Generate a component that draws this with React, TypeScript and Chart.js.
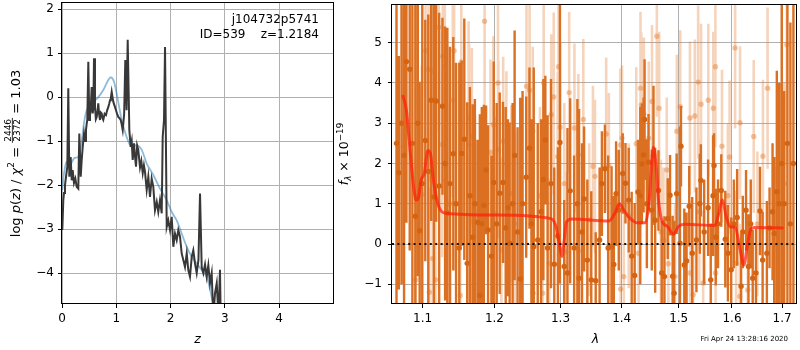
import React, { useEffect, useRef } from 'react';
import { Chart, registerables } from 'chart.js';
Chart.register(...registerables);

const FONT = '"DejaVu Sans", sans-serif';

// ---------- left panel: log p(z) ----------
const zBlack = [0.006,0.024,0.037,0.055,0.074,0.098,0.116,0.135,0.160,0.179,0.197,0.221,0.246,0.271,0.300,0.319,0.345,0.363,0.382,0.406,0.424,0.442,0.456,0.466,0.485,0.503,0.516,0.529,0.547,0.566,0.578,0.590,0.608,0.624,0.640,0.655,0.669,0.685,0.700,0.716,0.732,0.746,0.761,0.786,0.811,0.832,0.853,0.870,0.885,0.900,0.916,0.931,0.946,0.970,0.995,1.016,1.038,1.060,1.082,1.100,1.119,1.145,1.167,1.190,1.211,1.241,1.254,1.266,1.285,1.303,1.327,1.345,1.364,1.385,1.406,1.438,1.462,1.488,1.510,1.530,1.561,1.591,1.622,1.653,1.683,1.714,1.746,1.775,1.806,1.838,1.856,1.880,1.899,1.930,1.959,1.991,2.022,2.052,2.083,2.114,2.144,2.175,2.206,2.236,2.267,2.299,2.328,2.359,2.391,2.420,2.452,2.483,2.515,2.544,2.575,2.605,2.636,2.667,2.697,2.728,2.759,2.789,2.820,2.852,2.885,2.912,2.931];
const pBlack = [-3.02,-2.34,-2.18,-2.00,-1.81,-1.58,0.20,-1.81,-1.36,-1.89,-1.66,-1.95,-1.85,-2.04,-2.08,-0.83,-1.81,-1.43,-1.13,-0.83,-1.00,-0.75,-0.60,-0.52,0.80,-0.52,-0.42,-0.30,0.23,-0.37,-0.25,0.88,-0.22,-0.50,-0.45,-0.30,-0.14,-0.40,-0.52,-0.35,-0.37,-0.48,-0.52,-0.38,-0.41,-0.30,-0.23,-0.15,-0.07,-0.02,0.12,0.00,-0.11,-0.20,-0.30,-0.38,-0.45,-0.48,-0.52,-0.62,-0.75,-0.40,0.84,-0.30,1.30,-0.75,-0.95,-1.13,-1.00,-1.43,-1.05,-1.35,-1.58,-1.10,-1.20,-1.60,-1.45,-1.73,-1.55,-1.70,-2.11,-1.81,-2.27,-1.85,-2.04,-2.57,-2.38,-2.61,-2.34,-2.64,-0.90,-0.52,1.14,-2.95,-2.80,-3.02,-2.72,-3.40,-3.10,-3.25,-3.02,-3.17,-3.55,-3.70,-3.86,-3.55,-3.93,-4.08,-3.63,-3.48,-3.78,-4.00,-3.70,-2.19,-3.86,-4.00,-3.80,-4.08,-3.82,-4.23,-4.00,-5.00,-4.46,-4.23,-5.00,-3.92,-5.50];
const zBlue = [0.006,0.037,0.086,0.147,0.221,0.300,0.363,0.424,0.485,0.577,0.669,0.761,0.853,0.903,0.959,1.020,1.100,1.190,1.280,1.376,1.469,1.561,1.683,1.806,1.930,2.022,2.114,2.206,2.299,2.391,2.483,2.575,2.667,2.759,2.800];
const pBlue = [-2.11,-1.73,-1.47,-1.55,-1.39,-1.36,-0.98,-0.45,-0.22,-0.11,0.00,0.16,0.39,0.45,0.35,0.00,-0.52,-0.90,-1.13,-1.09,-1.20,-1.51,-1.77,-2.08,-2.34,-2.61,-2.80,-3.10,-3.40,-3.63,-3.78,-3.93,-4.08,-4.54,-4.77];
const zTicks = [0, 1, 2, 3, 4];
const logpTicks = [-4, -3, -2, -1, 0, 1, 2];

// ---------- right panel: spectrum ----------
const darkWave = [1.0658,1.0688,1.0723,1.0756,1.0787,1.0830,1.0865,1.0904,1.0937,1.0961,1.0996,1.1036,1.1076,1.1115,1.1152,1.1182,1.1223,1.1268,1.1304,1.1335,1.1372,1.1417,1.1455,1.1500,1.1533,1.1570,1.1611,1.1649,1.1687,1.1719,1.1757,1.1790,1.1818,1.1847,1.1879,1.1908,1.1956,1.1990,1.2033,1.2077,1.2125,1.2165,1.2198,1.2223,1.2267,1.2297,1.2341,1.2381,1.2416,1.2471,1.2520,1.2550,1.2585,1.2646,1.2698,1.2733,1.2763,1.2798,1.2851,1.2902,1.2959,1.2991,1.3058,1.3110,1.3153,1.3216,1.3268,1.3295,1.3343,1.3376,1.3429,1.3493,1.3566,1.3630,1.3668,1.3718,1.3772,1.3829,1.3867,1.3905,1.3950,1.4017,1.4064,1.4119,1.4170,1.4221,1.4278,1.4318,1.4346,1.4376,1.4393,1.4433,1.4462,1.4519,1.4549,1.4579,1.4637,1.4695,1.4744,1.4802,1.4844,1.4891,1.4917,1.4963,1.5024,1.5042,1.5102,1.5144,1.5193,1.5248,1.5326,1.5389,1.5408,1.5470,1.5544,1.5594,1.5638,1.5657,1.5689,1.5732,1.5794,1.5871,1.5922,1.5985,1.6037,1.6101,1.6178,1.6211,1.6275,1.6323,1.6368,1.6407,1.6472,1.6552,1.6605,1.6691,1.6745,1.6806,1.6840,1.6893,1.6942,1.6994,1.7044,1.7111,1.7173,1.7236];
const darkFlux = [2.50,1.77,3.00,2.20,4.53,4.34,2.50,0.69,3.00,0.33,1.50,2.57,1.80,3.57,1.17,3.55,1.44,3.42,2.00,0.77,1.50,2.24,1.00,-0.10,2.25,2.60,-0.48,1.20,0.17,1.00,0.54,-1.28,0.50,0.96,1.84,0.35,-0.30,1.53,0.50,1.26,1.53,0.40,0.90,0.02,1.00,2.20,0.30,-0.87,1.00,1.66,2.38,0.50,-0.07,0.10,0.80,1.60,2.58,-0.10,1.50,-0.50,0.20,2.52,-0.56,-0.72,1.32,-0.10,1.00,-0.85,0.30,1.12,-0.40,-0.89,-0.91,0.10,1.50,1.87,-0.10,-0.07,-0.51,1.25,0.84,1.75,1.51,1.09,-0.30,-0.78,1.29,1.20,1.99,2.21,3.09,1.00,2.03,0.84,2.20,0.59,1.33,-0.72,-0.81,0.63,1.21,-0.80,-1.22,1.25,0.02,2.43,-0.52,-0.42,0.94,-0.23,0.10,1.00,1.58,0.30,0.90,-0.89,1.20,1.95,0.17,0.50,1.33,0.12,-0.23,-0.64,0.50,0.66,-1.05,0.30,0.84,-0.56,0.50,-0.85,-0.72,0.82,-0.40,-0.23,0.40,0.80,0.26,1.30,1.00,2.00,1.00,2.50,0.50,2.00];
const darkErr = [4.5,2.9,4.0,4.5,4.0,4.5,4.5,5.5,3.8,3.7,4.5,3.0,3.9,3.0,4.8,3.0,4.3,2.2,3.4,4.6,3.4,2.9,3.5,4.6,2.3,3.0,4.0,2.7,3.3,2.6,2.05,4.5,2.9,2.5,1.6,2.6,2.5,3.0,3.0,2.5,2.0,3.0,2.2,3.0,2.5,3.1,2.6,4.5,2.8,2.0,2.0,2.6,4.45,2.9,2.3,2.5,1.6,3.3,2.6,2.4,2.2,3.5,1.65,3.6,2.3,2.3,2.6,4.2,2.2,1.8,2.0,2.2,1.2,1.8,1.3,1.1,2.3,2.0,1.7,1.3,1.5,1.0,1.0,1.3,1.6,1.8,1.3,2.2,1.5,1.43,1.5,1.6,1.2,1.5,1.73,1.8,1.0,1.3,1.5,1.0,1.0,1.5,1.8,1.0,2.9,1.0,1.4,1.2,1.0,1.4,1.3,1.24,0.9,1.3,1.2,1.4,1.5,0.8,1.2,1.1,0.9,1.2,1.2,1.3,1.1,1.2,1.3,0.9,1.0,1.3,1.1,1.2,1.1,1.1,1.2,1.3,1.0,1.7,1.9,3.0,3.0,5.0,2.8,6.0,5.0,6.0];

const lightWave = [1.0745,1.0908,1.0990,1.1040,1.1080,1.1090,1.1125,1.1135,1.1174,1.1218,1.1263,1.1272,1.1300,1.1308,1.1370,1.1410,1.1428,1.1514,1.1528,1.1630,1.1639,1.1677,1.1720,1.1808,1.1858,1.1943,1.1985,1.2019,1.2052,1.2058,1.2101,1.2128,1.2175,1.2248,1.2300,1.2390,1.2475,1.2522,1.2570,1.2575,1.2680,1.2722,1.2738,1.2825,1.2855,1.2893,1.2955,1.2969,1.2995,1.3060,1.3085,1.3137,1.3221,1.3284,1.3288,1.3364,1.3460,1.3521,1.3554,1.3739,1.3784,1.3790,1.3853,1.3978,1.3982,1.4005,1.4035,1.4120,1.4249,1.4289,1.4322,1.4336,1.4380,1.4466,1.4523,1.4608,1.4649,1.4680,1.4726,1.4785,1.4814,1.4933,1.4967,1.5028,1.5206,1.5210,1.5266,1.5297,1.5358,1.5380,1.5412,1.5451,1.5548,1.5642,1.5682,1.5686,1.5808,1.5920,1.5954,1.6061,1.6080,1.6151,1.6157,1.6309,1.6427,1.6500,1.6611,1.6705,1.6873,1.6910,1.7048,1.7099];
const lightFlux = [2.42,-0.89,1.23,4.80,4.34,-1.20,4.30,-0.36,-0.89,5.38,2.47,4.66,4.40,1.58,1.00,3.57,4.80,-1.28,4.52,3.13,2.46,2.67,0.80,0.36,5.53,2.28,2.96,0.76,4.00,2.34,-0.15,2.55,1.99,1.25,0.50,-0.87,3.92,3.82,2.80,-1.22,1.20,-1.22,4.00,-0.48,3.21,3.65,2.17,4.40,2.90,1.50,-0.20,3.76,2.88,2.22,-0.17,3.09,0.60,1.93,1.68,2.73,1.95,-0.07,-0.62,2.46,-1.12,2.63,-0.81,0.70,2.49,-0.23,3.87,3.45,3.23,2.63,3.54,5.16,3.37,0.30,0.10,1.84,-0.49,-0.81,2.80,3.41,3.13,-0.72,-1.26,3.18,4.02,0.80,3.47,-0.97,3.57,3.37,4.40,-0.72,2.43,1.20,2.16,4.87,-0.48,-1.30,3.01,-1.14,2.67,0.50,2.18,3.87,-0.07,1.00,1.50,4.95];
const lightErr = [3.4,3.0,3.2,3.0,2.8,2.6,2.5,2.7,2.6,2.6,2.8,2.4,2.6,2.7,2.5,2.4,2.5,2.3,2.3,2.4,2.5,2.2,2.4,2.3,2.4,2.3,2.2,2.4,2.3,2.2,2.3,2.1,2.3,2.2,2.3,2.2,2.2,2.3,2.1,2.0,2.2,2.1,2.2,2.1,2.0,2.1,2.1,2.0,2.1,2.0,2.0,2.0,2.1,2.0,1.9,2.0,1.9,2.0,1.9,1.9,1.8,1.9,1.8,1.9,1.8,1.8,1.9,1.8,1.9,1.8,1.9,1.8,1.9,1.9,1.9,2.0,1.9,1.8,1.8,1.8,1.8,1.8,1.9,1.9,1.9,1.8,1.8,1.9,1.9,1.8,2.0,1.8,1.9,1.9,2.0,1.8,1.9,1.8,1.9,2.0,1.8,1.8,1.9,1.8,1.9,1.8,1.9,2.0,2.0,2.2,2.5,3.0];

const modelWave = [1.0739,1.0787,1.0839,1.0882,1.0917,1.0947,1.0979,1.1022,1.1071,1.1102,1.1146,1.1192,1.1259,1.1326,1.2000,1.2851,1.2929,1.2980,1.3022,1.3058,1.3094,1.3180,1.3784,1.3883,1.3962,1.4034,1.4148,1.4261,1.4406,1.4475,1.4520,1.4550,1.4597,1.4638,1.4696,1.4802,1.4904,1.4993,1.5100,1.5670,1.5746,1.5813,1.5890,1.5966,1.6063,1.6148,1.6232,1.6297,1.6363,1.6442,1.7031];
const modelFlux = [3.70,3.31,2.24,1.41,1.09,1.17,1.58,1.75,2.32,2.27,1.58,1.09,0.80,0.76,0.72,0.63,0.43,0.02,-0.31,0.10,0.55,0.62,0.57,0.76,1.00,0.84,0.63,0.53,0.53,1.09,2.07,2.40,1.91,1.09,0.59,0.43,0.24,0.43,0.49,0.46,0.76,1.10,0.67,0.43,0.41,-0.07,-0.52,-0.07,0.35,0.41,0.40];
const zeroWave = [1.06, 1.729];
const zeroFlux = [0, 0];
const lamTicks = [1.1, 1.2, 1.3, 1.4, 1.5, 1.6, 1.7];
const fluxTicks = [-1, 0, 1, 2, 3, 4, 5];

const fmt = (v: number, d = 0) => (v < 0 ? '\u2212' : '') + Math.abs(v).toFixed(d);

type Part = { t?: string; size: number; italic?: boolean; dy?: number; frac?: [string, string] };

function drawParts(ctx: CanvasRenderingContext2D, parts: Part[], cx: number, cy: number, rotate: boolean) {
  ctx.save();
  ctx.translate(cx, cy);
  if (rotate) ctx.rotate(-Math.PI / 2);
  ctx.fillStyle = 'black';
  ctx.textBaseline = 'alphabetic';
  ctx.textAlign = 'left';
  const setFont = (p: Part) => { ctx.font = `${p.italic ? 'italic ' : ''}${p.size}px ${FONT}`; };
  const widths = parts.map(p => {
    setFont(p);
    if (p.frac) return Math.max(ctx.measureText(p.frac[0]).width, ctx.measureText(p.frac[1]).width) + 2;
    return ctx.measureText(p.t || '').width;
  });
  const total = widths.reduce((a, b) => a + b, 0);
  let x = -total / 2;
  parts.forEach((p, i) => {
    setFont(p);
    const w = widths[i];
    if (p.frac) {
      const w0 = ctx.measureText(p.frac[0]).width;
      const w1 = ctx.measureText(p.frac[1]).width;
      ctx.fillText(p.frac[0], x + (w - w0) / 2, -8.6);
      ctx.fillText(p.frac[1], x + (w - w1) / 2, 0.6);
      ctx.fillRect(x, -7.6, w, 0.8);
    } else {
      ctx.fillText(p.t || '', x, p.dy || 0);
    }
    x += w;
  });
  ctx.restore();
}

function plainText(ctx: CanvasRenderingContext2D, t: string, x: number, y: number, size: number, align: CanvasTextAlign, italic = false) {
  ctx.save();
  ctx.font = `${italic ? 'italic ' : ''}${size}px ${FONT}`;
  ctx.fillStyle = 'black';
  ctx.textAlign = align;
  ctx.textBaseline = 'middle';
  ctx.fillText(t, x, y);
  ctx.restore();
}

const framePlugin = {
  id: 'frame',
  afterDatasetsDraw(chart: any) {
    const { ctx, chartArea: a } = chart;
    ctx.save();
    ctx.strokeStyle = 'black';
    ctx.lineWidth = 1;
    ctx.strokeRect(Math.round(a.left) - 0.5, Math.round(a.top) + 0.5, Math.round(a.right - a.left) + 1, Math.round(a.bottom - a.top) - 1);
    ctx.restore();
  },
};

function axisCommon(ticksArr: number[], digits: number, pad: number) {
  return {
    afterBuildTicks: (s: any) => { s.ticks = ticksArr.map(v => ({ value: v })); },
    ticks: {
      autoSkip: false, maxRotation: 0, padding: pad, color: 'black',
      font: { family: FONT, size: 12 },
      callback: (v: any) => fmt(Number(v), digits),
    },
    grid: { color: '#b0b0b0', lineWidth: 1, tickLength: 4, tickColor: 'black', tickWidth: 1 },
    border: { display: false },
  };
}

const pts = (xs: number[], ys: number[]) => xs.map((x, i) => ({ x, y: ys[i] }));
const bars = (xs: number[], ys: number[], es: number[]) => {
  const out: any[] = [];
  xs.forEach((x, i) => { out.push({ x, y: ys[i] - es[i] }, { x, y: ys[i] + es[i] }, { x, y: null }); });
  return out;
};

export default function App() {
  const leftRef = useRef<HTMLCanvasElement>(null);
  const rightRef = useRef<HTMLCanvasElement>(null);

  useEffect(() => {
    const leftTexts = {
      id: 'leftTexts',
      afterDraw(chart: any) {
        const ctx = chart.ctx as CanvasRenderingContext2D;
        drawParts(ctx, [
          { t: 'log ', size: 13 }, { t: 'p', size: 13, italic: true }, { t: '(', size: 13 },
          { t: 'z', size: 13, italic: true }, { t: ')', size: 13 }, { t: ' / ', size: 13 },
          { t: '\u03c7', size: 13, italic: true }, { t: '2', size: 9, dy: -5.5 },
          { t: ' = ', size: 13 }, { frac: ['2446', '2372'], size: 9 }, { t: ' = 1.03', size: 13 },
        ], 19.5, 153.5, true);
        plainText(ctx, 'z', 197.5, 340, 12.5, 'center', true);
        plainText(ctx, 'j104732p5741', 319, 20, 12, 'right');
        plainText(ctx, 'ID=539    z=1.2184', 319, 34.5, 12, 'right');
      },
    };
    const OFF = 330; // left edge of right canvas on the page
    const rightTexts = {
      id: 'rightTexts',
      afterDraw(chart: any) {
        const ctx = chart.ctx as CanvasRenderingContext2D;
        drawParts(ctx, [
          { t: 'f', size: 12.5, italic: true }, { t: '\u03bb', size: 8.8, italic: true, dy: 3 },
          { t: ' \u00d7 10', size: 12.5 }, { t: '\u221219', size: 8.8, dy: -5.5 },
        ], 348 - OFF, 154, true);
        plainText(ctx, '\u03bb', 595.5 - OFF, 340, 12.5, 'center', true);
        plainText(ctx, 'Fri Apr 24 13:28:16 2020', 788 - OFF, 339, 7, 'right');
      },
    };

    const left = new Chart(leftRef.current!, {
      type: 'line',
      data: {
        datasets: [
          { data: pts(zBlack, pBlack), borderColor: '#383838', borderWidth: 2, pointRadius: 0, tension: 0, order: 0 },
          { data: pts(zBlue, pBlue), borderColor: 'rgba(31,119,180,0.5)', borderWidth: 1.8, pointRadius: 0, tension: 0.3, order: 1 },
        ],
      } as any,
      options: {
        responsive: false, animation: false, devicePixelRatio: 1, events: [],
        layout: { padding: { left: 0, right: 7, top: 2, bottom: 0 } },
        plugins: { legend: { display: false }, tooltip: { enabled: false } },
        scales: {
          x: { type: 'linear', min: 0, max: 4.995, ...axisCommon(zTicks, 0, 4),
            afterFit: (s: any) => { s.height = 46; s.paddingLeft = 0; s.paddingRight = 0; } } as any,
          y: { type: 'linear', min: -4.7, max: 2.16, ...axisCommon(logpTicks, 0, 4),
            afterFit: (s: any) => { s.width = 62; s.paddingTop = 0; s.paddingBottom = 0; } } as any,
        },
      },
      plugins: [framePlugin, leftTexts],
    });

    const right = new Chart(rightRef.current!, {
      type: 'line',
      data: {
        datasets: [
          { data: pts(zeroWave, zeroFlux), borderColor: '#111', borderWidth: 2, borderDash: [2, 3.4], pointRadius: 0, order: 0 },
          { data: pts(modelWave, modelFlux), borderColor: 'rgba(255,30,10,0.72)', borderWidth: 3, pointRadius: 0, cubicInterpolationMode: 'monotone', order: 1 },
          { data: pts(darkWave, darkFlux), showLine: false, pointRadius: 2.7, pointBorderWidth: 0, pointBackgroundColor: 'rgb(212,100,18)', borderColor: 'rgba(0,0,0,0)', order: 2 },
          { data: bars(darkWave, darkFlux, darkErr), borderColor: 'rgb(219,112,34)', borderWidth: 2.4, borderCapStyle: 'butt', pointRadius: 0, spanGaps: false, order: 3 },
          { data: pts(lightWave, lightFlux), showLine: false, pointRadius: 2.7, pointBorderWidth: 0, pointBackgroundColor: 'rgba(225,120,40,0.42)', borderColor: 'rgba(0,0,0,0)', order: 4 },
          { data: bars(lightWave, lightFlux, lightErr), borderColor: 'rgba(230,130,55,0.34)', borderWidth: 2.6, borderCapStyle: 'butt', pointRadius: 0, spanGaps: false, order: 5 },
        ],
      } as any,
      options: {
        responsive: false, animation: false, devicePixelRatio: 1, events: [],
        layout: { padding: { left: 0, right: 1, top: 2, bottom: 0 } },
        plugins: { legend: { display: false }, tooltip: { enabled: false } },
        scales: {
          x: { type: 'logarithmic', min: 1.06, max: 1.729, ...axisCommon(lamTicks, 1, 4),
            afterFit: (s: any) => { s.height = 46; s.paddingLeft = 0; s.paddingRight = 0; } } as any,
          y: { type: 'linear', min: -1.49, max: 5.96, ...axisCommon(fluxTicks, 0, 6),
            afterFit: (s: any) => { s.width = 392 - OFF; s.paddingTop = 0; s.paddingBottom = 0; } } as any,
        },
      },
      plugins: [framePlugin, rightTexts],
    });

    return () => { left.destroy(); right.destroy(); };
  }, []);

  return (
    <div style={{ position: 'absolute', left: 0, top: 0, width: 800, height: 350, background: 'white' }}>
      <canvas ref={leftRef} width={340} height={350} style={{ position: 'absolute', left: 0, top: 0, width: 340, height: 350 }} />
      <canvas ref={rightRef} width={470} height={350} style={{ position: 'absolute', left: 330, top: 0, width: 470, height: 350 }} />
    </div>
  );
}
